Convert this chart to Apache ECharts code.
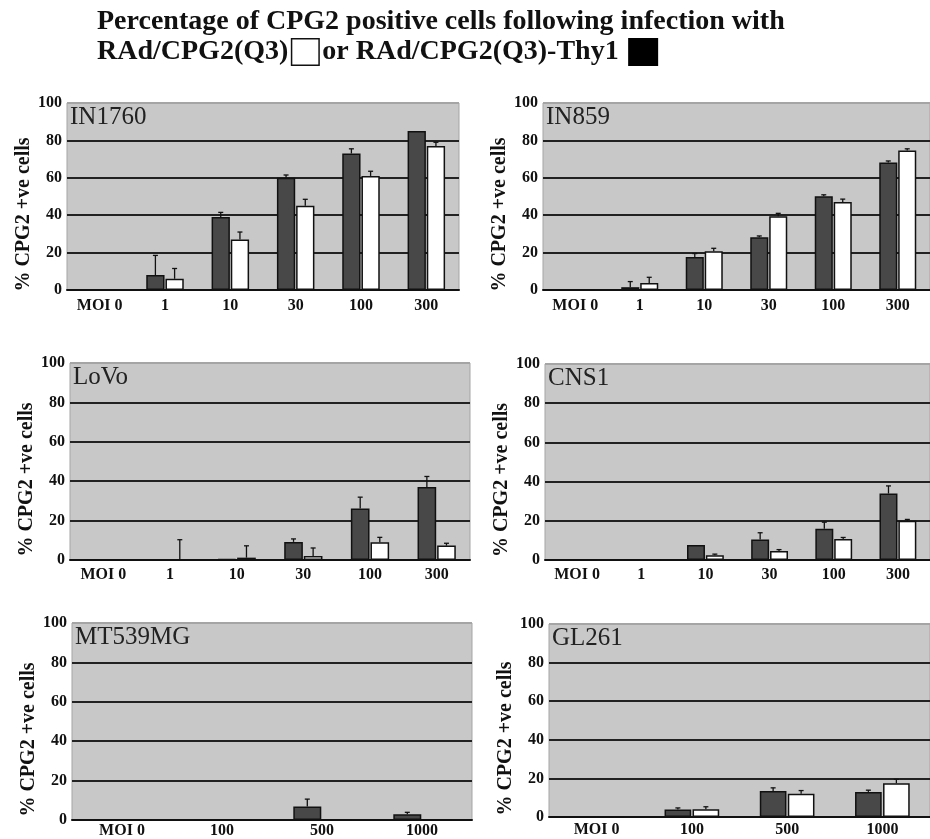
<!DOCTYPE html>
<html>
<head>
<meta charset="utf-8">
<script src="https://cdn.jsdelivr.net/npm/echarts@6/dist/echarts.min.js"></script>
<style>
html,body{margin:0;padding:0;background:#fff;}
#chart{width:930px;height:839px;}
</style>
</head>
<body>
<div id="chart"></div>
<script>
// ---- data ----
const cats6 = ['MOI 0', '1', '10', '30', '100', '300'];
const cats4 = ['MOI 0', '100', '500', '1000'];
const panelNames = ['IN1760', 'IN859', 'LoVo', 'CNS1', 'MT539MG', 'GL261'];

// RAd/CPG2(Q3)-Thy1 (dark bars) and RAd/CPG2(Q3) (white bars), % CPG2 +ve cells
const in1760Thy1 = [0, 8, 39, 60, 73, 85];
const in1760Q3 = [0, 6, 27, 45, 61, 77];
const in1760Thy1Err = [0, 10.5, 2.5, 1.5, 2.5, 0];
const in1760Q3Err = [0, 5.5, 4, 3.5, 2.5, 2];

const in859Thy1 = [0, 1.5, 17.7, 28.2, 50.2, 68.2];
const in859Q3 = [0, 3.8, 20.7, 39.5, 47, 74.6];
const in859Thy1Err = [0, 3, 1.8, 0.7, 0.7, 0.8];
const in859Q3Err = [0, 3, 1.6, 1.5, 1.6, 0.9];

const lovoThy1 = [0, 0.3, 0.5, 9.2, 26.1, 37.1];
const lovoQ3 = [0, 0.3, 1.2, 2, 9, 7.3];
const lovoThy1Err = [0, 0, 0, 1.5, 5.8, 5.3];
const lovoQ3Err = [0, 10, 6, 4.1, 2.5, 1.2];

const cns1Thy1 = [0, 0, 7.6, 10.5, 15.9, 33.9];
const cns1Q3 = [0, 0, 2.4, 4.6, 10.7, 20];
const cns1Thy1Err = [0, 0, 0, 3.4, 3.4, 3.9];
const cns1Q3Err = [0, 0, 0.6, 0.7, 0.8, 0.7];

const mt539Thy1 = [0, 0, 6.8, 2.9];
const mt539Q3 = [0, 0, 0, 0];
const mt539Thy1Err = [0, 0, 3.8, 1];
const mt539Q3Err = [0, 0, 0, 0];

const gl261Thy1 = [0, 3.9, 13.5, 13];
const gl261Q3 = [0, 4, 12.1, 17.5];
const gl261Thy1Err = [0, 0.8, 1.6, 0.9];
const gl261Q3Err = [0, 1.3, 1.6, 2];

const yTicks = [0, 20, 40, 60, 80, 100];

// ---- layout ----
const panels = [
  {cats: cats6, thy1: in1760Thy1, q3: in1760Q3, thy1Err: in1760Thy1Err, q3Err: in1760Q3Err, left: 67, top: 103, width: 392, height: 187, lm: 8},
  {cats: cats6, thy1: in859Thy1, q3: in859Q3, thy1Err: in859Thy1Err, q3Err: in859Q3Err, left: 543, top: 103, width: 393, height: 187, lm: 8},
  {cats: cats6, thy1: lovoThy1, q3: lovoQ3, thy1Err: lovoThy1Err, q3Err: lovoQ3Err, left: 70, top: 363, width: 400, height: 197, lm: 7},
  {cats: cats6, thy1: cns1Thy1, q3: cns1Q3, thy1Err: cns1Thy1Err, q3Err: cns1Q3Err, left: 545, top: 364, width: 392, height: 196, lm: 7},
  {cats: cats4, thy1: mt539Thy1, q3: mt539Q3, thy1Err: mt539Thy1Err, q3Err: mt539Q3Err, left: 72, top: 623, width: 400, height: 197, lm: 3},
  {cats: cats4, thy1: gl261Thy1, q3: gl261Q3, thy1Err: gl261Thy1Err, q3Err: gl261Q3Err, left: 549, top: 624, width: 390, height: 193, lm: 5}
];

const FONT = 'Liberation Serif';
const BAR_W = 0.28, BAR_GAP = 0.05;

function errRender(sign) {
  return function (params, api) {
    const idx = api.value(0), val = api.value(1), err = api.value(2);
    if (!err) return null;
    const c = api.coord([idx, val]);
    const t = api.coord([idx, val + err]);
    const band = api.size([1, 0])[0];
    const bw = band * BAR_W;
    const x = c[0] + sign * (bw + bw * BAR_GAP) / 2;
    const style = {stroke: '#111', lineWidth: 1.3};
    return {
      type: 'group',
      children: [
        {type: 'line', shape: {x1: x, y1: c[1], x2: x, y2: t[1]}, style: style},
        {type: 'line', shape: {x1: x - 2.5, y1: t[1], x2: x + 2.5, y2: t[1]}, style: style}
      ]
    };
  };
}

const grid = [], xAxis = [], yAxis = [], series = [];
const title = [{
  left: 97, top: 7, padding: 0,
  text: 'Percentage of CPG2 positive cells following infection with\n{t|RAd/CPG2(Q3)}{s|}{w|}{s|}{t|or RAd/CPG2(Q3)-Thy1 }{s|}{k|}',
  textStyle: {
    fontFamily: FONT, fontWeight: 'bold', fontSize: 28, color: '#111', lineHeight: 30,
    rich: {
      t: {fontFamily: FONT, fontWeight: 'bold', fontSize: 28, color: '#111', lineHeight: 30},
      s: {width: 4, height: 20},
      w: {width: 26, height: 25, backgroundColor: '#fff', borderColor: '#111', borderWidth: 1.5},
      k: {width: 27, height: 25, backgroundColor: '#000', borderColor: '#000', borderWidth: 1.5}
    }
  }
}];

panels.forEach((p, i) => {
  grid.push({left: p.left, top: p.top, width: p.width, height: p.height, show: true,
    backgroundColor: '#c8c8c8', borderColor: '#a5a5a5', borderWidth: 1, containLabel: false});
  xAxis.push({type: 'category', gridIndex: i, data: p.cats,
    axisLine: {lineStyle: {color: '#111', width: 2}}, axisTick: {show: false},
    axisLabel: {fontFamily: FONT, fontWeight: 'bold', fontSize: 16, color: '#111', margin: p.lm, interval: 0},
    splitLine: {show: false}});
  yAxis.push({type: 'value', gridIndex: i, min: yTicks[0], max: yTicks[yTicks.length - 1], interval: 20,
    name: '% CPG2 +ve cells', nameLocation: 'middle', nameRotate: 90, nameGap: 33,
    nameTextStyle: {fontFamily: FONT, fontWeight: 'bold', fontSize: 20, color: '#111', padding: [0, 36, 0, 0]},
    axisLine: {show: false}, axisTick: {show: false},
    axisLabel: {fontFamily: FONT, fontWeight: 'bold', fontSize: 16, color: '#111', margin: 5},
    splitLine: {show: true, lineStyle: {color: ['#111', '#222', '#222', '#222', '#222', '#a5a5a5'], width: 2}}});
  title.push({text: panelNames[i], left: p.left + 3, top: p.top + 2, padding: 0,
    textStyle: {fontFamily: FONT, fontWeight: 'normal', fontSize: 25, color: '#222'}});
  series.push({type: 'bar', name: 'RAd/CPG2(Q3)-Thy1', xAxisIndex: i, yAxisIndex: i, data: p.thy1,
    barWidth: (BAR_W * 100) + '%', barGap: (BAR_GAP * 100) + '%',
    itemStyle: {color: '#484848', borderColor: '#111', borderWidth: 1.5}, silent: true});
  series.push({type: 'bar', name: 'RAd/CPG2(Q3)', xAxisIndex: i, yAxisIndex: i, data: p.q3,
    barWidth: (BAR_W * 100) + '%', barGap: (BAR_GAP * 100) + '%',
    itemStyle: {color: '#ffffff', borderColor: '#111', borderWidth: 1.5}, silent: true});
  series.push({type: 'custom', xAxisIndex: i, yAxisIndex: i, renderItem: errRender(-1), z: 5,
    data: p.thy1.map((v, k) => [k, v, p.thy1Err[k]]), silent: true});
  series.push({type: 'custom', xAxisIndex: i, yAxisIndex: i, renderItem: errRender(1), z: 5,
    data: p.q3.map((v, k) => [k, v, p.q3Err[k]]), silent: true});
});

const chart = echarts.init(document.getElementById('chart'), null, {renderer: 'canvas'});
chart.setOption({animation: false, backgroundColor: '#fff', title, grid, xAxis, yAxis, series});
</script>
</body>
</html>
